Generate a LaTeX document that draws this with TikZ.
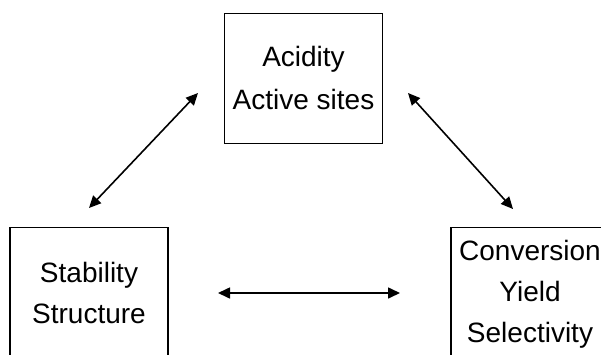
\documentclass[tikz,border=0pt]{standalone}
\usepackage{fontspec}
\setmainfont{Liberation Sans}
\usetikzlibrary{arrows.meta}
\begin{document}
\begin{tikzpicture}[x=1pt,y=1pt,
  box/.style={draw=black,line width=1.2pt,minimum width=158pt,minimum height=130pt,inner sep=0pt},
  lbl/.style={align=center,anchor=base,inner sep=0pt,font=\fontsize{28}{41}\selectfont},
  dbl/.style={line width=1.6pt,{Triangle[length=12pt,width=11pt]}-{Triangle[length=12pt,width=11pt]}}]
\useasboundingbox (0,0) rectangle (601,354);
\node[box] (acid) at (303.5,275.5) {};
\node[box] (stab) at (89,61.5) {};
\node[box] (conv) at (530,61.5) {};
\node[lbl,font=\fontsize{28}{43}\selectfont] (acidt) at (303.5,244) {Acidity\\Active sites};
\node[lbl] (stabt) at (89,31) {Stability\\Structure};
\node[lbl] (convt) at (530,12) {Conversion\\Yield\\Selectivity};
\coordinate (a1) at (198,261);
\coordinate (a2) at (89,146);
\coordinate (b1) at (408,261);
\coordinate (b2) at (513,145);
\coordinate (c1) at (218,61);
\coordinate (c2) at (400,61);
\draw[dbl] (a1) -- (a2);
\draw[dbl] (b1) -- (b2);
\draw[dbl] (c1) -- (c2);
\end{tikzpicture}
\end{document}
